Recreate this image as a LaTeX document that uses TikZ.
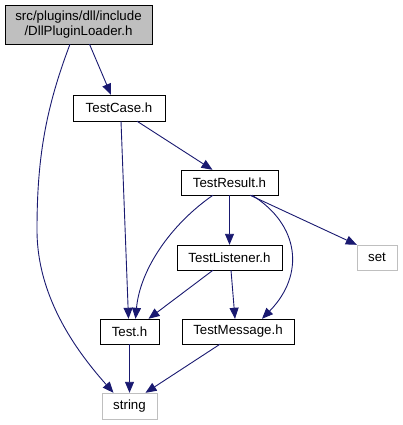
\documentclass[tikz,border=0pt]{standalone}
\usepackage{fontspec}
\setmainfont{Liberation Sans}
\usetikzlibrary{arrows.meta}
\definecolor{edgeblue}{HTML}{191970}
\definecolor{boxgray}{HTML}{BFBFBF}
\tikzset{
  hdr/.style={draw=black,fill=white,inner sep=0pt,font=\fontsize{13.3}{15.5}\selectfont},
  sys/.style={hdr,draw=boxgray},
  rootbox/.style={hdr,fill=boxgray,align=center},
  dep/.style={->,edgeblue,line width=0.9pt},
}

\begin{document}
\begin{tikzpicture}[x=1pt,y=-1pt,>={Triangle[length=11pt,width=9pt]}]
  \useasboundingbox (0,0) rectangle (403,425);
  \node[rootbox,minimum width=147,minimum height=39] (loader) at (78.5,24.5) {src/plugins/dll/include\\/DllPluginLoader.h};
  \node[hdr,minimum width=92,minimum height=26] (testcase) at (119,108) {TestCase.h};
  \node[hdr,minimum width=97,minimum height=25] (testresult) at (229.5,182.5) {TestResult.h};
  \node[hdr,minimum width=105,minimum height=25] (testlistener) at (229.5,257.5) {TestListener.h};
  \node[sys,minimum width=40,minimum height=25] (set) at (377,257.5) {set};
  \node[hdr,minimum width=59,minimum height=25] (test) at (129.5,331.5) {Test.h};
  \node[hdr,minimum width=112,minimum height=25] (testmessage) at (238,331.5) {TestMessage.h};
  \node[sys,minimum width=55,minimum height=26] (string) at (129.5,406) {string};

  \draw[dep] ([xshift=11]loader.south) -- ([xshift=-8]testcase.north);
  \draw[dep] ([xshift=-8.5]loader.south) .. controls (45,110) and (37,160) .. (37,230)
    .. controls (37,300) and (80,355) .. ([xshift=-16]string.north);
  \draw[dep] ([xshift=2]testcase.south) -- ([xshift=-1]test.north);
  \draw[dep] ([xshift=18]testcase.south) -- ([xshift=-17]testresult.north);
  \draw[dep] ([xshift=-16.5]testresult.south) .. controls (170,225) and (140,270) .. ([xshift=6]test.north);
  \draw[dep] (testresult) -- (testlistener);
  \draw[dep] ([xshift=20.5]testresult.south) -- (set.north west);
  \draw[dep] ([xshift=22.5]testresult.south) .. controls (300,225) and (305,275) .. ([xshift=24]testmessage.north);
  \draw[dep] ([xshift=-16.5]testlistener.south) -- ([xshift=19]test.north);
  \draw[dep] ([xshift=1.5]testlistener.south) -- ([xshift=-3]testmessage.north);
  \draw[dep] (test) -- (string);
  \draw[dep] ([xshift=-18]testmessage.south) -- ([xshift=16]string.north);
\end{tikzpicture}
\end{document}
